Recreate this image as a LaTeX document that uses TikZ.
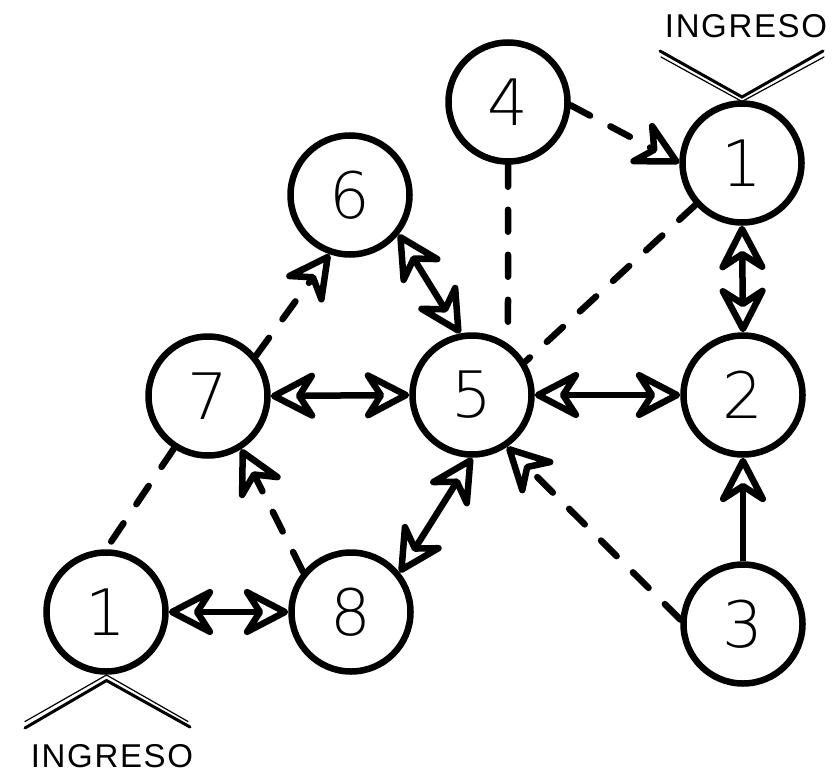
\documentclass[tikz,border=0pt]{standalone}
\usepackage{fontspec}
\usetikzlibrary{arrows.meta}
\newfontfamily\numfont{DejaVu Sans}[UprightFont=* ExtraLight]
\newfontfamily\ingfont{Liberation Sans}[LetterSpace=5]
\tikzset{
  state/.style={circle, draw, line width=6.5pt, minimum size=119pt, inner sep=0pt,
    font=\numfont\fontsize{64pt}{64pt}\selectfont},
  link/.style={line width=6.5pt},
  dlink/.style={line width=6.5pt, dash pattern=on 22pt off 23pt, line cap=round},
  label/.style={inner sep=0pt, font=\ingfont\fontsize{33pt}{33pt}\selectfont},
  thickv/.style={line width=3pt, line cap=round},
  thinv/.style={line width=1.2pt, line cap=round},
  >={Stealth[open, round, length=54pt, width=56pt, inset=18pt, line width=6.5pt]}
}
\begin{document}
\begin{tikzpicture}[x=1pt, y=-1pt]
\useasboundingbox (0,0) rectangle (840,781);
\fill[white] (0,0) rectangle (840,781);

% nodes
\node[state] (n4)  at (508,102) {4};
\node[state] (n1t) at (742,163) {1};
\node[state] (n6)  at (350,195) {6};
\node[state] (n7)  at (208,396) {7};
\node[state] (n5)  at (472,395) {5};
\node[state] (n2)  at (743,395) {2};
\node[state] (n1b) at (106,612) {1};
\node[state] (n8)  at (351,612) {8};
\node[state] (n3)  at (743,624) {3};

% labels
\node[label] (ing1) at (746,26) {INGRESO};
\node[label] (ing2) at (112,756) {INGRESO};

% ingress marks
\draw[thickv] (660,51) -- (742,97) -- (823,51);
\draw[thinv]  (661,57) -- (742,101.5) -- (824,57);
\draw[thinv]  (25,721.5) -- (106.5,675) -- (188,721.5);
\draw[thickv] (25,728) -- (106.5,680.5) -- (190,727);

% solid connectors
\draw[link,<->] (n6.321) -- (n5.101);
\draw[link,<->] (n7.east) -- (n5.west);
\draw[link,<->] (n5.east) -- (n2.west);
\draw[link,<->] (n1t.south) -- (n2.north);
\draw[link,->]  (n3.north) -- (n2.south);
\draw[link,<->] (n1b.east) -- (n8.west);
\draw[link,<->] (n8.39) -- (n5.south);

% dashed connectors
\draw[dlink,->] (n4.-3) -- (n1t.west);
\draw[dlink]    (n4.south) -- (n5.55);
\draw[dlink]    (n1t.222) -- (n5.32);
\draw[dlink,->] (n7.40) -- (n6.251.6);
\draw[dlink]    (n7.237) -- (n1b.north);
\draw[dlink,->] (n8.140) -- (n7.302.5);
\draw[dlink,->] (n3.176) -- (n5.304.6);
\end{tikzpicture}
\end{document}
